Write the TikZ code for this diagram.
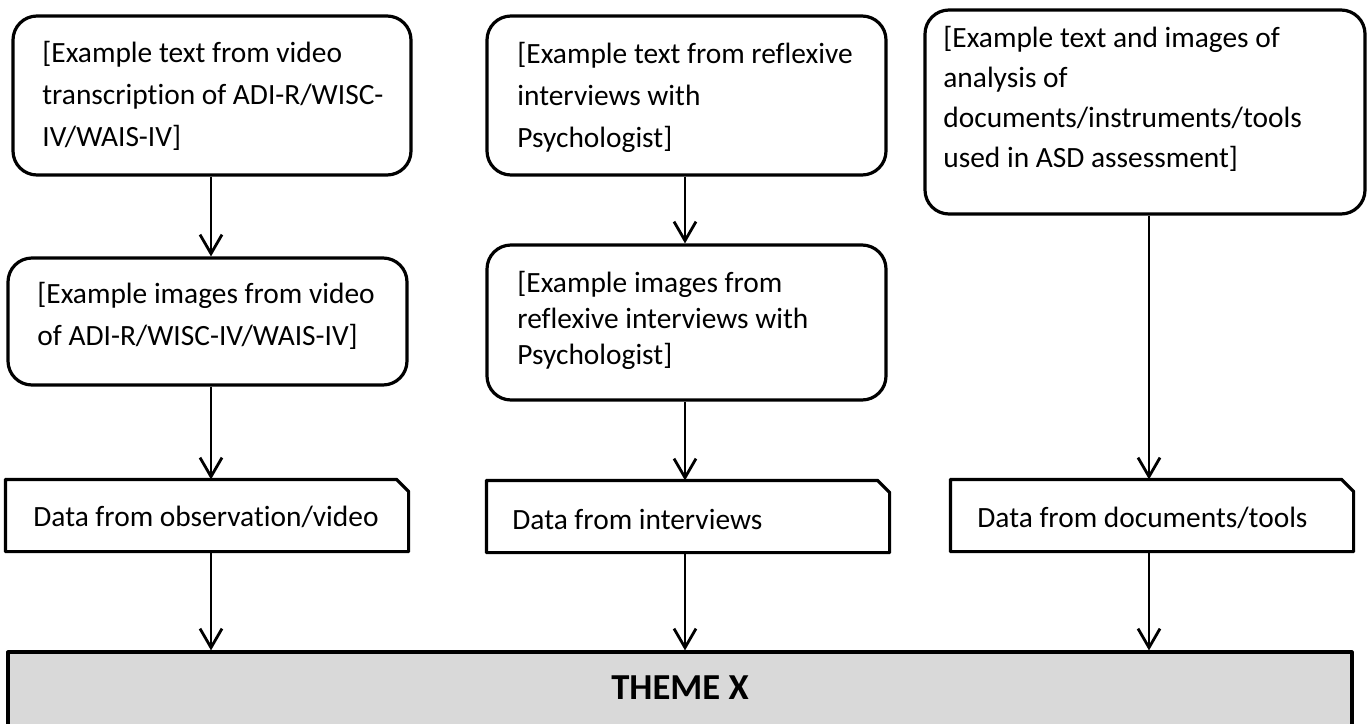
\documentclass[tikz,border=0pt]{standalone}
\usepackage{fontspec}
\setmainfont{Carlito}[Ligatures=NoCommon]
\usetikzlibrary{arrows.meta}

\newcommand{\bodyfont}{\fontsize{14.7}{21}\selectfont}
\newcommand{\tightfont}{\fontsize{14.7}{18}\selectfont}
\newcommand{\widefont}{\fontsize{14.7}{20}\selectfont}
\newcommand{\themefont}{\fontsize{18.3}{22}\selectfont\bfseries}
% outline of a box whose top-right corner is cut off
\newcommand{\snipframe}[1]{%
  \draw[frame] (#1.south west) -- (#1.north west)
    -- ([xshift=-6pt]#1.north east) -- ([yshift=-6pt]#1.north east)
    -- (#1.south east) -- cycle;}

\definecolor{themegray}{HTML}{D9D9D9}
\tikzset{
  frame/.style={line width=1.6pt, line join=round},
  roundbox/.style={draw, frame, rounded corners=12pt, inner sep=0pt},
  databox/.style={inner sep=0pt, minimum width=200pt,
    minimum height=34.5pt, outer sep=0.8pt},
  themebox/.style={draw, frame, fill=themegray, inner sep=0pt},
  txt/.style={anchor=west, align=left, inner sep=0pt, font=\bodyfont},
  arr/.style={line width=1.4pt,
    -{Straight Barb[length=9.5pt, width=11pt, line width=1.4pt]}},
}

\begin{document}
\begin{tikzpicture}[x=0.5pt, y=-0.5pt]
\useasboundingbox (0,0) rectangle (1370,723);
\clip (0,0) rectangle (1370,723);

% column positions of the connectors
\coordinate (colA) at (211,0);
\coordinate (colB) at (685,0);
\coordinate (colC) at (1149,0);

% left column: observation / video
\node[roundbox, minimum width=199pt, minimum height=79.5pt] (A1) at (212,95.5) {};
\node[txt] (A1t) at (42,96)
  {[Example text from video\\transcription of ADI-R/WISC-\\IV/WAIS-IV]};
\node[roundbox, minimum width=199.5pt, minimum height=63.5pt] (A2) at (207.5,321.5) {};
\node[txt] (A2t) at (37,316)
  {[Example images from video\\of ADI-R/WISC-IV/WAIS-IV]};
\node[databox] (A3) at (207,515.5) {};
\node[txt] (A3t) at (33,517) {Data from observation/video};

% middle column: interviews
\node[roundbox, minimum width=199.5pt, minimum height=79.5pt] (B1) at (686.5,95.5) {};
\node[txt] (B1t) at (517,97)
  {[Example text from reflexive\\interviews with\\Psychologist]};
\node[roundbox, minimum width=199.5pt, minimum height=77.5pt] (B2) at (686.5,322.5) {};
\node[txt, font=\tightfont] (B2t) at (517,320)
  {[Example images from\\reflexive interviews with\\Psychologist]};
\node[databox] (B3) at (688,516.5) {};
\node[txt] (B3t) at (512,519) {Data from interviews};

% right column: documents / tools
\node[roundbox, minimum width=220pt, minimum height=102pt] (C1) at (1145,112) {};
\node[txt, font=\widefont] (C1t) at (943,99)
  {[Example text and images of\\analysis of\\documents/instruments/tools\\used in ASD assessment]};
\node[databox] (C3) at (1152,515.5) {};
\node[txt] (C3t) at (977,518) {Data from documents/tools};

\snipframe{A3}
\snipframe{B3}
\snipframe{C3}

% common theme, running off the lower edge
\node[themebox, minimum width=672pt, minimum height=54pt] (T) at (680,706) {};
\node[font=\themefont, inner sep=0pt] (Tt) at (680,688) {THEME X};

% connectors
\draw[arr] (A1.south -| colA) -- (A2.north -| colA);
\draw[arr] (A2.south -| colA) -- (A3.north -| colA);
\draw[arr] (A3.south -| colA) -- (T.north -| colA);
\draw[arr] (B1.south -| colB) -- (B2.north -| colB);
\draw[arr] (B2.south -| colB) -- (B3.north -| colB);
\draw[arr] (B3.south -| colB) -- (T.north -| colB);
\draw[arr] (C1.south -| colC) -- (C3.north -| colC);
\draw[arr] (C3.south -| colC) -- (T.north -| colC);
\end{tikzpicture}
\end{document}
